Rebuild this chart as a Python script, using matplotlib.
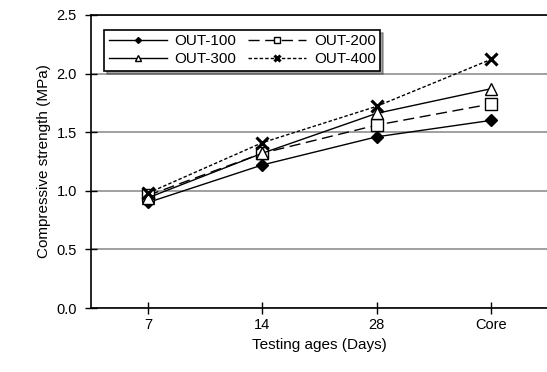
import matplotlib.pyplot as plt

plt.rcParams['font.family'] = ['Liberation Sans', 'DejaVu Sans']

# Dados
idades = ['7', '14', '28', 'Core']
out_100 = [0.90, 1.22, 1.46, 1.60]
out_200 = [0.96, 1.32, 1.56, 1.74]
out_300 = [0.94, 1.32, 1.66, 1.87]
out_400 = [0.98, 1.41, 1.72, 2.12]
y_ticks = [0.0, 0.5, 1.0, 1.5, 2.0, 2.5]

fig = plt.figure(figsize=(5.47, 3.72), dpi=100)
ax = fig.add_axes([0.166, 0.172, 0.836, 0.788])

x = list(range(len(idades)))
l1, = ax.plot(x, out_100, color='black', lw=1.0, marker='D', ms=6,
              mfc='black', mec='black', label='OUT-100')
l2, = ax.plot(x, out_200, color='black', lw=1.0, ls=(0, (8, 4)), marker='s', ms=9,
              mfc='white', mec='black', label='OUT-200')
l3, = ax.plot(x, out_300, color='black', lw=1.0, marker='^', ms=9,
              mfc='white', mec='black', label='OUT-300')
l4, = ax.plot(x, out_400, color='black', lw=1.0, ls=(0, (2.5, 1.5)), marker='x', ms=9,
              mew=2.2, mec='black', label='OUT-400')

ax.set_xlim(-0.5, 3.5)
ax.set_ylim(0, 2.5)
ax.set_xticks(x)
ax.set_xticklabels(idades)
ax.set_yticks(y_ticks)
ax.set_yticklabels([f'{v:.1f}' for v in y_ticks])
ax.yaxis.grid(True, color='#909090', lw=1.2)
ax.set_axisbelow(True)
ax.tick_params(direction='inout', length=8, width=1, labelsize=10.5, colors='black')
ax.tick_params(axis='y', pad=6)
for s in ax.spines.values():
    s.set_linewidth(1.2)

ax.set_xlabel('Testing ages (Days)', fontsize=11)
ax.set_ylabel('Compressive strength (MPa)', fontsize=11)

# ordem por linhas: 100, 200 / 300, 400
leg = ax.legend([l1, l3, l2, l4], ['OUT-100', 'OUT-300', 'OUT-200', 'OUT-400'],
                loc='upper left', ncol=2, fontsize=11, frameon=True, shadow=True,
                fancybox=False, handlelength=3.8, columnspacing=0.8,
                borderpad=0.3, labelspacing=0.25, handletextpad=0.5,
                bbox_to_anchor=(0.012, 0.975), markerscale=0.5)
leg.get_frame().set_edgecolor('black')
leg.get_frame().set_linewidth(1.2)

plt.savefig('out.png', dpi=100)
